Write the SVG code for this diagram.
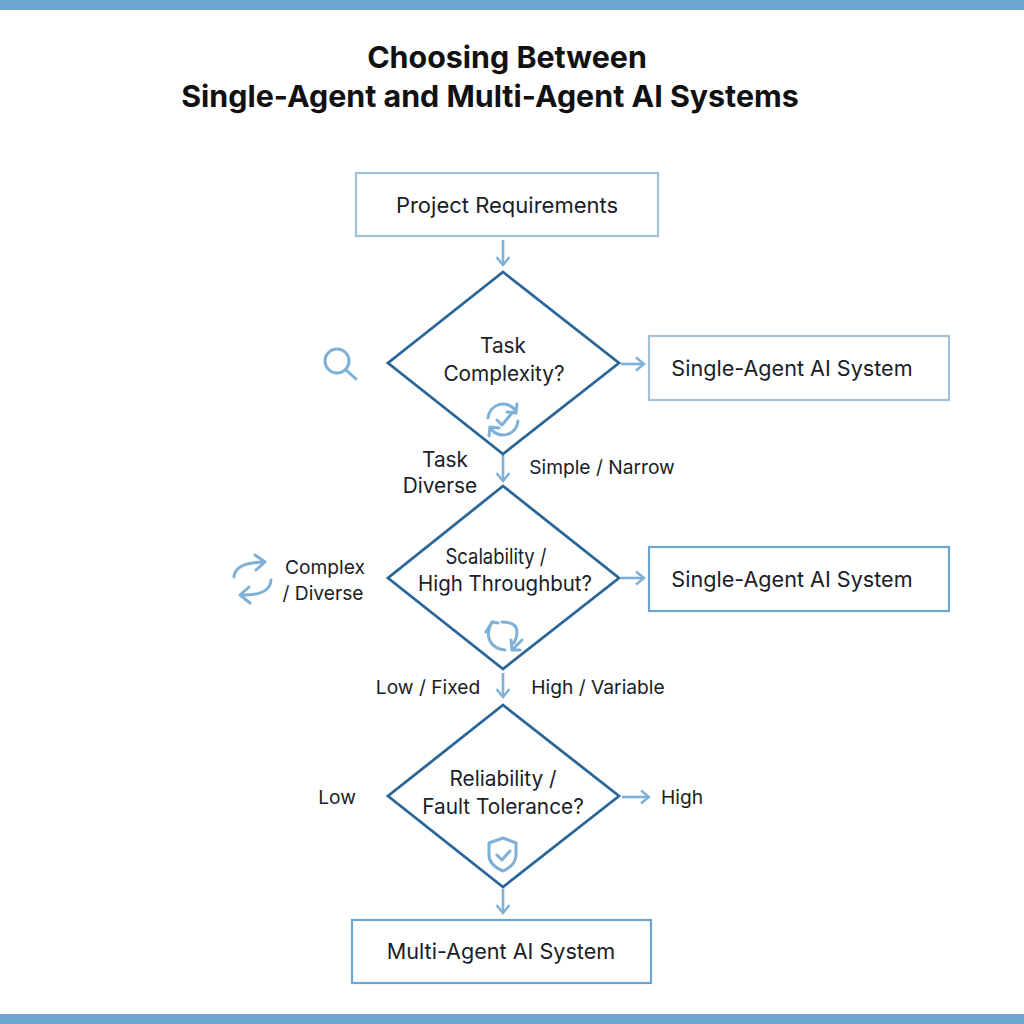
<svg xmlns="http://www.w3.org/2000/svg" width="1024" height="1024" viewBox="0 0 1024 1024">
<defs>
<marker id="a" markerWidth="16" markerHeight="16" refX="12.5" refY="8" orient="auto" markerUnits="userSpaceOnUse"><path d="M4.5 1.5L12.5 8L4.5 14.5" fill="none" stroke="#7eb0d8" stroke-width="2.4"/></marker>
</defs>
<style>
text{font-family:"Inter","Liberation Sans",sans-serif;fill:#1a2026;text-anchor:middle;font-size:21px}
.t{font-weight:700;font-size:30.4px;fill:#111}
.m{font-size:20.8px}
.n{font-size:22px}
.s{font-size:21.6px}
.l{font-size:19.2px}
.d{fill:#fff;stroke:#2a6698;stroke-width:2.8}
.b{fill:#fff;stroke-width:2.2}
.c{fill:none;stroke:#7eb0d8;stroke-width:2.6;marker-end:url(#a)}
.i{fill:none;stroke:#7eb0d8;stroke-width:3;stroke-linecap:round;stroke-linejoin:round}
</style>
<rect width="1024" height="1024" fill="#fff"/>
<rect width="1024" height="10" fill="#6ea6d2"/>
<rect y="1014" width="1024" height="10" fill="#6ea6d2"/>
<g id="title"><text class="t" x="507" y="68">Choosing Between</text><text class="t" x="490" y="107">Single-Agent and Multi-Agent AI Systems</text></g>
<g id="connectors">
<path class="c" d="M503 240V265"/>
<path class="c" d="M621 364H644"/>
<path class="c" d="M503 455V481"/>
<path class="c" d="M621 578H644"/>
<path class="c" d="M503 673V697"/>
<path class="c" d="M622 797H649"/>
<path class="c" d="M503 889V913"/>
</g>
<g id="requirements"><rect class="b" x="356" y="173" width="302" height="63" stroke="#a3c0d6"/><text class="n" x="507" y="213">Project Requirements</text></g>
<g id="complexity"><path class="d" d="M503 272L619 363L503 454L388 363Z"/><text class="m" x="503" y="353">Task</text><text class="m" x="504" y="381">Complexity?</text>
<path class="i" stroke-width="2.5" d="M488 418A15 15 0 0 1 515 410M517 404L516 413L507 412M518 421A15 15 0 0 1 491 429M489 436L490 427L499 428"/><path class="i" d="M497 420L502 425L512 413"/></g>
<g id="single1"><rect class="b" x="649" y="336" width="300" height="64" stroke="#a3c0d6"/><text class="s" x="792" y="376">Single-Agent AI System</text></g>
<g id="scalability"><path class="d" d="M503 486L619 578L503 669L388 578Z"/><text class="m" x="496" y="564" textLength="101" lengthAdjust="spacingAndGlyphs">Scalability /</text><text class="m" x="505" y="591" textLength="174" lengthAdjust="spacingAndGlyphs">High Throughbut?</text>
<path class="i" d="M486 632L492 622L498 623M492 622Q486 632 490 641Q494 649 505 650M502 622Q517 622 517 632Q517 638 514 643M511 640L512 650L520 650M512 650L522 640"/></g>
<g id="single2"><rect class="b" x="649" y="547" width="300" height="64" stroke="#6ea6d2"/><text class="s" x="792" y="587">Single-Agent AI System</text></g>
<g id="reliability"><path class="d" d="M503 705L619 796L503 887L388 796Z"/><text class="m" x="503" y="786">Reliability /</text><text class="m" x="503" y="814">Fault Tolerance?</text>
<path class="i" stroke-width="2.8" d="M503 838L516 843V855Q516 865 503 871Q489 865 489 855V843Z"/><path class="i" stroke-width="2.6" d="M497 855L502 860L510 851"/></g>
<g id="multi"><rect class="b" x="352" y="920" width="299" height="63" stroke="#6ea6d2"/><text class="s" x="501" y="959">Multi-Agent AI System</text></g>
<g id="labels">
<text class="m" x="445" y="467">Task</text><text class="m" x="440" y="493">Diverse</text>
<text class="l" x="602" y="474">Simple / Narrow</text>
<text class="l" x="325" y="574">Complex</text><text class="l" x="323" y="600">/ Diverse</text>
<text class="l" x="428" y="694">Low / Fixed</text>
<text class="l" x="598" y="694">High / Variable</text>
<text class="l" x="337" y="804">Low</text>
<text class="l" x="682" y="804">High</text>
</g>
<g id="icons">
<circle class="i" stroke-width="3.2" cx="337" cy="361" r="12"/><path class="i" stroke-width="4" d="M346 370L356 379"/>
<path class="i" d="M234 577Q235 562 265 562M255 555L265 562L256 570"/>
<path class="i" d="M271 580Q270 596 240 595M249 587L240 595L250 603"/>
</g>
</svg>
